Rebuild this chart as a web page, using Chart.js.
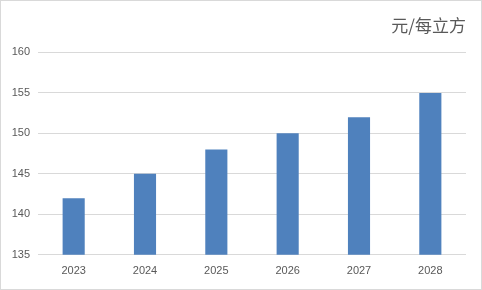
<!DOCTYPE html>
<html><head><meta charset="utf-8">
<script src="https://cdn.jsdelivr.net/npm/chart.js@4"></script>
<style>
html,body{margin:0;padding:0;background:#fff;}
#wrap{width:482px;height:290px;box-sizing:border-box;border:1px solid #d9d9d9;position:relative;}
canvas{display:block;}
</style></head><body>
<div id="wrap"><canvas id="c" width="480" height="288"></canvas></div>
<script>
const categories = ['2023','2024','2025','2026','2027','2028'];
const prices = [142,145,148,150,152,155];
const unitTitle = '元/每立方';
const yMin = 135, yMax = 160, yStep = 5;

new Chart(document.getElementById('c'), {
  type: 'bar',
  data: { labels: categories, datasets: [{ data: prices, backgroundColor: '#4f81bd', categoryPercentage: 1, barPercentage: 0.31 }] },
  options: {
    responsive: false, animation: false,
    layout: { padding: { left: 2, right: 15, top: 0, bottom: 9 } },
    plugins: {
      legend: { display: false }, tooltip: { enabled: false },
      title: { display: true, text: unitTitle, align: 'end', color: '#595959',
        font: { family: '"Noto Sans CJK SC"', size: 17, weight: 'normal' }, padding: { top: 14, bottom: 17 } }
    },
    scales: {
      x: { grid: { display: false }, border: { display: false },
        ticks: { color: '#595959', padding: 2, font: { family: '"Liberation Sans"', size: 11 } } },
      y: { min: yMin, max: yMax, grid: { color: '#d9d9d9', drawTicks: false }, border: { display: false },
        afterFit: (s) => { s.width = 35; },
        ticks: { stepSize: yStep, color: '#595959', padding: 8, font: { family: '"Liberation Sans"', size: 11 } } }
    }
  }
});
</script></body></html>
